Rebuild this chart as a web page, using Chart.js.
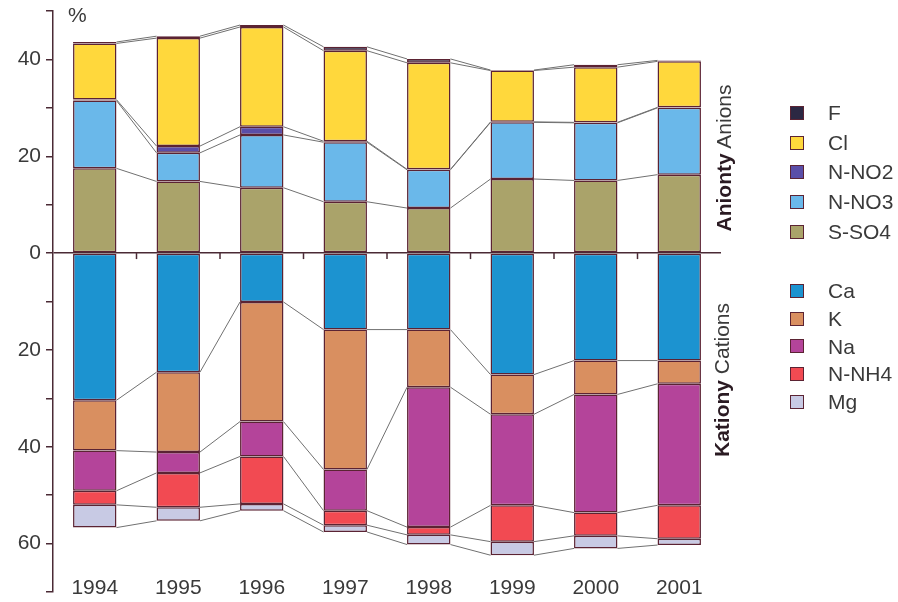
<!DOCTYPE html>
<html>
<head>
<meta charset="utf-8">
<script src="https://cdn.jsdelivr.net/npm/chart.js@4.4.1/dist/chart.umd.min.js"></script>
<style>
  html, body { margin: 0; padding: 0; background: #fff; }
  #wrap { position: relative; width: 898px; height: 602px; font-family: "Liberation Sans", Arial, sans-serif; color: #3a3a3a; }
  #chart { position: absolute; left: 0; top: 0; }
  .pct { position: absolute; left: 68px; top: 3px; font-size: 21px; }
  .vlab { position: absolute; font-size: 21px; white-space: nowrap; transform: translate(-50%, -50%) rotate(-90deg); }
  .vlab b { color: #2a1a22; }
  .legend { position: absolute; left: 790px; font-size: 21px; }
  .legend div { position: relative; padding-left: 38px; }
  #legA div { height: 29.7px; line-height: 29.7px; }
  #legC div { height: 27.8px; line-height: 27.8px; }
  .legend span { position: absolute; left: 0; top: 50%; margin-top: -7px; width: 12px; height: 12px; border: 1.5px solid #5b2333; }
</style>
</head>
<body>
<div id="wrap">
  <canvas id="chart" width="898" height="602"></canvas>
  <div class="pct">%</div>
  <div class="vlab" style="left:724px; top:158px;"><b>Anionty</b> Anions</div>
  <div class="vlab" style="left:722px; top:380px;"><b>Kationy</b> Cations</div>
  <div class="legend" id="legA" style="top:98px;"></div>
  <div class="legend" id="legC" style="top:277px;"></div>
</div>
<script>
const years = ['1994', '1995', '1996', '1997', '1998', '1999', '2000', '2001'];

// anions (%), drawn upward
const sso4 = [17.5, 14.8, 13.5, 10.6, 9.3, 15.3, 15.0, 16.2];
const nno3 = [14.0, 5.9, 10.9, 12.3, 7.9, 11.7, 11.9, 13.8];
const nno2 = [0.2, 1.4, 1.7, 0.2, 0.1, 0.1, 0.1, 0.1];
const cl = [11.6, 22.3, 20.6, 18.7, 22.0, 10.6, 11.4, 9.5];
const fl = [0.3, 0.4, 0.4, 0.8, 0.8, 0.1, 0.5, 0.2];

// cations (%), drawn downward
const ca = [30.4, 24.6, 10.1, 15.8, 15.8, 25.1, 22.2, 22.2];
const kk = [10.4, 16.5, 24.7, 28.9, 11.9, 8.2, 7.0, 4.8];
const na = [8.3, 4.3, 7.2, 8.5, 28.9, 18.8, 24.4, 25.1];
const nh4 = [2.9, 7.1, 9.8, 3.0, 1.6, 7.5, 4.8, 6.9];
const mg = [4.7, 2.8, 1.4, 1.4, 2.0, 2.8, 2.6, 1.3];

const anions = [
  { label: 'S-SO4', data: sso4, color: '#aaa36a' },
  { label: 'N-NO3', data: nno3, color: '#6ab8ea' },
  { label: 'N-NO2', data: nno2, color: '#5a4ea8' },
  { label: 'Cl', data: cl, color: '#ffd83c' },
  { label: 'F', data: fl, color: '#2c2843' }
];
const cations = [
  { label: 'Ca', data: ca, color: '#1c93d0' },
  { label: 'K', data: kk, color: '#d98f60' },
  { label: 'Na', data: na, color: '#b4449a' },
  { label: 'N-NH4', data: nh4, color: '#f24a52' },
  { label: 'Mg', data: mg, color: '#c8cae4' }
];

const datasets = [];
anions.forEach(a => datasets.push({ label: a.label, data: a.data, backgroundColor: a.color }));
cations.forEach(c => datasets.push({ label: c.label, data: c.data.map(v => -v), backgroundColor: c.color }));
datasets.forEach(d => {
  d.stack = 's';
  d.borderColor = '#5b2333';
  d.borderWidth = 1.5;
  d.borderSkipped = false;
  d.barPercentage = 0.52;
  d.categoryPercentage = 1;
});

// html legend, top to bottom as in the picture
function fillLegend(id, items) {
  const el = document.getElementById(id);
  items.slice().reverse().forEach(it => {
    const row = document.createElement('div');
    row.innerHTML = '<span style="background:' + it.color + '"></span>' + it.label;
    el.appendChild(row);
  });
}
fillLegend('legA', anions);
fillLegend('legC', cations.slice().reverse());

const extras = {
  id: 'extras',
  afterDatasetsDraw(chart) {
    const ctx = chart.ctx;
    const y = chart.scales.y;
    const x = chart.scales.x;
    const y0 = y.getPixelForValue(0);

    // connector lines between stacked segments
    ctx.save();
    ctx.strokeStyle = '#707070';
    ctx.lineWidth = 1;
    chart.data.datasets.forEach((ds, di) => {
      const bars = chart.getDatasetMeta(di).data;
      for (let i = 0; i < bars.length - 1; i++) {
        const a = bars[i], b = bars[i + 1];
        ctx.beginPath();
        ctx.moveTo(a.x + a.width / 2, a.y);
        ctx.lineTo(b.x - b.width / 2, b.y);
        ctx.stroke();
      }
    });

    // category ticks under zero line
    ctx.strokeStyle = '#4a2a35';
    ctx.lineWidth = 1.5;
    for (let i = 0; i < years.length - 1; i++) {
      const xm = (x.getPixelForValue(i) + x.getPixelForValue(i + 1)) / 2;
      ctx.beginPath();
      ctx.moveTo(xm, y0);
      ctx.lineTo(xm, y0 + 6);
      ctx.stroke();
    }

    // year labels
    ctx.fillStyle = '#3a3a3a';
    ctx.font = '21px "Liberation Sans", Arial, sans-serif';
    ctx.textAlign = 'center';
    ctx.textBaseline = 'middle';
    years.forEach((yr, i) => ctx.fillText(yr, x.getPixelForValue(i), 588));
    ctx.restore();
  }
};

new Chart(document.getElementById('chart'), {
  type: 'bar',
  data: { labels: years, datasets: datasets },
  options: {
    responsive: false,
    animation: false,
    devicePixelRatio: 1,
    layout: { padding: { top: 11, right: 177, bottom: 10, left: 0 } },
    plugins: { legend: { display: false }, tooltip: { enabled: false } },
    scales: {
      x: { display: false, stacked: true },
      y: {
        stacked: true,
        min: -70,
        max: 50,
        afterFit: s => { s.width = 53; s.paddingTop = 0; s.paddingBottom = 0; },
        border: { color: '#4a2a35', width: 1.5 },
        grid: {
          drawOnChartArea: true,
          color: c => c.tick && c.tick.value === 0 ? '#4a2a35' : 'rgba(0,0,0,0)',
          lineWidth: 1.5,
          tickColor: '#4a2a35',
          tickLength: 7
        },
        ticks: {
          stepSize: 10,
          padding: 5,
          color: '#3a3a3a',
          font: { family: '"Liberation Sans", Arial, sans-serif', size: 21 },
          callback: v => (v % 20 === 0 && v > -70 && v < 50) ? String(Math.abs(v)) : ''
        }
      }
    }
  },
  plugins: [extras]
});
</script>
</body>
</html>
